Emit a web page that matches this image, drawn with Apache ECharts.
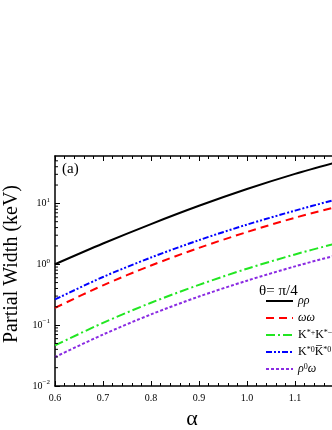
<!DOCTYPE html>
<html>
<head>
<meta charset="utf-8">
<script src="https://cdn.jsdelivr.net/npm/echarts@6/dist/echarts.min.js"></script>
<style>html,body{margin:0;padding:0;background:#fff}#c{width:332px;height:430px}</style>
</head>
<body>
<div id="c"></div>
<script>
var alpha = [0.6, 0.7, 0.8, 0.9, 1.0, 1.1, 1.18];
var rhoRho = [1.0, 2.19, 4.57, 9.12, 17.2, 30.5, 45.8];
var omegaOmega = [0.192, 0.451, 0.953, 1.86, 3.38, 5.81, 8.51];
var kPlusMinus = [0.0465, 0.109, 0.233, 0.459, 0.845, 1.45, 2.14];
var kZeroBar = [0.264, 0.618, 1.29, 2.49, 4.48, 7.6, 11.25];
var rhoOmega = [0.0299, 0.070, 0.150, 0.295, 0.537, 0.923, 1.365];
var seriesNames = ['ρρ', 'ωω', 'K*+K*−', 'K*0K̄*0', 'ρ0ω'];
var xTickLabels = ['0.6', '0.7', '0.8', '0.9', '1.0', '1.1'];
var yTickLabels = ['10{s|−2}', '10{s|−1}', '10{s|0}', '10{s|1}'];
var X_MIN = 0.6, X_MAX = 1.2, Y_MIN = 0.01, Y_MAX = 60;

var minorY = [];
for (var e = -2; e <= 1; e++) {
  for (var m = 2; m <= 9; m++) {
    var v = m * Math.pow(10, e);
    if (v < Y_MAX) minorY.push([X_MIN, v]);
  }
}

function pairs(ys) { return alpha.map(function (a, i) { return [a, ys[i]]; }); }

var richLegend = {
  'ρρ': '{i|ρρ}',
  'ωω': '{i|ωω}',
  'K*+K*−': '{n|K}{s|*+}{n|K}{s|*−}',
  'K*0K̄*0': '{n|K}{s|*0}{n|K\u0305}{s|*0}',
  'ρ0ω': '{i|ρ}{s|0}{i|ω}'
};

var serif = 'Liberation Serif';
function lineSeries(name, data, color, type, width) {
  return {
    name: name, type: 'line', data: pairs(data), smooth: 0.3,
    symbol: 'none', showSymbol: false,
    lineStyle: { color: color, width: width, type: type },
    itemStyle: { color: color }, z: 3
  };
}

var chart = echarts.init(document.getElementById('c'), null, { renderer: 'canvas' });
chart.setOption({
  animation: false,
  backgroundColor: '#fff',
  grid: { left: 55, top: 156, bottom: 44, right: -11, containLabel: false, outerBoundsMode: 'none' },
  xAxis: [{
    type: 'value', min: X_MIN, max: X_MAX, interval: 0.1, position: 'bottom',
    name: 'α', nameLocation: 'middle', nameGap: 22,
    nameTextStyle: { fontFamily: serif, fontSize: 22, color: '#000', padding: [0, 14, 0, 0] },
    axisLine: { show: true, onZero: false, lineStyle: { color: '#000', width: 1.5 } },
    axisTick: { show: true, inside: true, length: 5, lineStyle: { color: '#000', width: 1 } },
    minorTick: { show: true, splitNumber: 5, length: 3, lineStyle: { color: '#000', width: 1 } },
    axisLabel: {
      fontFamily: serif, fontSize: 10, color: '#000', margin: 7, showMaxLabel: false,
      formatter: function (v) { var i = Math.round((v - X_MIN) * 10); return xTickLabels[i] || ''; }
    },
    splitLine: { show: false }, minorSplitLine: { show: false }
  }, {
    type: 'value', min: X_MIN, max: X_MAX, interval: 0.1, position: 'top',
    axisLine: { show: true, onZero: false, lineStyle: { color: '#000', width: 1.5 } },
    axisTick: { show: true, inside: true, length: 5, lineStyle: { color: '#000', width: 1 } },
    minorTick: { show: true, splitNumber: 5, length: 3, lineStyle: { color: '#000', width: 1 } },
    axisLabel: { show: false }, splitLine: { show: false }
  }],
  yAxis: {
    type: 'log', logBase: 10, min: Y_MIN, max: Y_MAX,
    name: 'Partial Width (keV)', nameLocation: 'middle', nameGap: 31, nameRotate: 90,
    nameTextStyle: { fontFamily: serif, fontSize: 20, color: '#000', padding: [0, 0, 0, 14] },
    axisLine: { show: true, onZero: false, lineStyle: { color: '#000', width: 1.5 } },
    axisTick: { show: true, inside: true, length: 5, lineStyle: { color: '#000', width: 1 } },
    axisLabel: {
      fontFamily: serif, fontSize: 10, color: '#000', margin: 5, showMaxLabel: false,
      formatter: function (v) {
        var k = Math.round(Math.log10(v)) + 2;
        return yTickLabels[k] || '';
      },
      rich: { s: { fontFamily: serif, fontSize: 7, padding: [0, 0, 7, 0], color: '#000' } }
    },
    splitLine: { show: false }
  },
  legend: {
    data: seriesNames, orient: 'vertical', left: 260, top: 288,
    itemWidth: 27, itemHeight: 12, itemGap: 1,
    itemStyle: { opacity: 0, borderWidth: 0 },
    textStyle: {
      fontFamily: serif, fontSize: 12, color: '#000', lineHeight: 16,
      rich: {
        i: { fontFamily: serif, fontSize: 12, fontStyle: 'italic', color: '#000', lineHeight: 16 },
        n: { fontFamily: serif, fontSize: 12, color: '#000', lineHeight: 16 },
        s: { fontFamily: serif, fontSize: 8, color: '#000', padding: [0, 0, 4, 0] }
      }
    },
    formatter: function (n) { return richLegend[n]; }
  },
  graphic: [
    { type: 'text', left: 62, top: 162, style: { text: '(a)', font: '15px "Liberation Serif"', fill: '#000' } },
    { type: 'text', left: 259, top: 284, style: { text: 'θ= π/4', font: '15px "Liberation Serif"', fill: '#000' } }
  ],
  series: [
    lineSeries(seriesNames[0], rhoRho, '#000000', 'solid', 2),
    lineSeries(seriesNames[1], omegaOmega, '#ff0000', [8, 5], 2),
    lineSeries(seriesNames[2], kPlusMinus, '#22e622', [9, 3, 2, 3], 2),
    lineSeries(seriesNames[3], kZeroBar, '#0000ff', [6, 2, 2, 2, 2, 2], 2),
    lineSeries(seriesNames[4], rhoOmega, '#8a2be2', [3, 2], 2),
    {
      type: 'custom', name: 'minorY', data: minorY, silent: true, clip: false, z: 4,
      renderItem: function (params, api) {
        var p = api.coord([api.value(0), api.value(1)]);
        return { type: 'line', shape: { x1: p[0], y1: p[1], x2: p[0] + 3, y2: p[1] }, style: { stroke: '#000', lineWidth: 1 } };
      }
    }
  ]
});
</script>
</body>
</html>
